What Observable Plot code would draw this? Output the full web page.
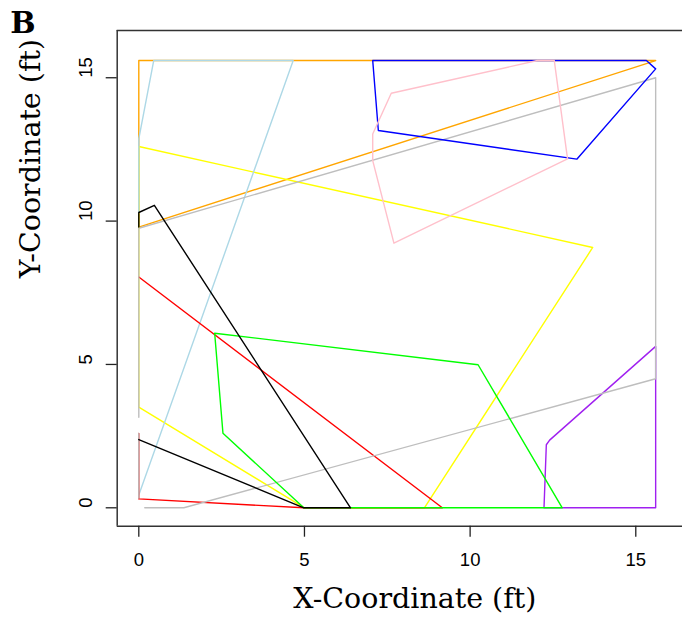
<!DOCTYPE html>
<html><head><meta charset="utf-8">
<script src="https://cdn.jsdelivr.net/npm/d3@7"></script>
<script src="https://cdn.jsdelivr.net/npm/@observablehq/plot@0.6"></script>
<style>html,body{margin:0;padding:0;background:#fff;overflow:hidden}</style>
</head><body><div id="chart"></div>
<script>
// axis ticks and limits (ft)
const xTicks = [0, 5, 10, 15];
const yTicks = [0, 5, 10, 15];
const xLimits = [-0.652, 16.41];
const yLimits = [-0.642, 16.648];

// paths, in drawing order (NaN = break in a path)
const orangeX = [0, 15.6, 0, 0];
const orangeY = [9.79, 15.6, 15.6, 9.79];
const yellowX = [0, 13.7, 8.62, 5.0, 0, 0];
const yellowY = [12.6, 9.08, 0, 0, 3.51, 12.6];
const lightblueX = [0, 4.66, 0.45, 0, 0];
const lightblueY = [0.45, 15.6, 15.6, 12.87, 10.3];
const redX = [0, 9.16, 4.98, 0, 0];
const redY = [8.05, 0, 0, 0.31, 2.59];
const purpleX = [12.23, 12.3, 12.4, 15.6, 15.6, 12.23];
const purpleY = [0, 2.2, 2.36, 5.63, 0, 0];
const grayX = [0, 0, 15.6, 15.6, 1.36, 0.18, NaN, 0, 0, NaN, 0, 0];
const grayY = [3.16, 9.75, 15.0, 4.5, 0, 0, NaN, 0.33, 2.59, NaN, 9.75, 3.16];
const greenX = [2.29, 10.24, 12.78, 4.98, 2.54, 2.29];
const greenY = [6.09, 4.99, 0, 0, 2.6, 6.09];
const blackX = [0, 0, 0.47, 6.39, 4.98, 0];
const blackY = [9.79, 10.3, 10.55, 0, 0, 2.38];
const blueX = [7.06, 15.32, 15.6, 13.22, 7.23, 7.06];
const blueY = [15.6, 15.6, 15.31, 12.16, 13.16, 15.6];
const pinkX = [12.03, 12.54, 12.94, 7.7, 7.06, 7.06, 7.62, 12.03];
const pinkY = [15.6, 15.6, 12.17, 9.23, 12.11, 13.04, 14.46, 15.6];

const pathColors = ["#FFA500", "#FFFF00", "#ADD8E6", "#FF0000", "#A020F0", "#BEBEBE", "#00FF00", "#000000", "#0000FF", "#FFC0CB"];
const pathXs = [orangeX, yellowX, lightblueX, redX, purpleX, grayX, greenX, blackX, blueX, pinkX];
const pathYs = [orangeY, yellowY, lightblueY, redY, purpleY, grayY, greenY, blackY, blueY, pinkY];

const panelLabel = "B";
const xTitle = "X-Coordinate (ft)";
const yTitle = "Y-Coordinate (ft)";

const serif = "'DejaVu Serif', 'Liberation Serif', serif";
const sans = "'Liberation Sans', Arial, sans-serif";

const lineMarks = pathXs.map((xs, i) => {
  const rows = xs.map((x, j) => ({x, y: pathYs[i][j]}));
  return Plot.line(rows, {x: "x", y: "y", stroke: pathColors[i], strokeWidth: 1.4, curve: "linear"});
});

const chart = Plot.plot({
  width: 682,
  height: 621,
  marginLeft: 116.7,
  marginRight: 0,
  marginTop: 30,
  marginBottom: 95.3,
  style: {background: "#fff", color: "#000"},
  x: {domain: xLimits},
  y: {domain: yLimits},
  marks: [
    ...lineMarks,
    Plot.ruleY(yLimits, {stroke: "#333", strokeWidth: 1.5}),
    Plot.ruleX([xLimits[0]], {stroke: "#333", strokeWidth: 1.5}),
    Plot.axisX({ticks: xTicks, tickSize: 11, tickPadding: 16, fontSize: 18.5, fontFamily: sans, label: null, stroke: "#222", strokeWidth: 1.3}),
    Plot.axisY({ticks: yTicks, tickSize: 11, tickFormat: () => "", label: null, stroke: "#222", strokeWidth: 1.3}),
    Plot.text(yTicks, {y: d => d, frameAnchor: "left", dx: -31, rotate: -90, text: d => String(d), fontSize: 18.5, fontFamily: sans, fill: "#000"}),
    Plot.text([xTitle], {frameAnchor: "bottom", dx: 15, dy: 82, text: d => d, fontSize: 28.5, fontFamily: serif, fill: "#000"}),
    Plot.text([yTitle], {frameAnchor: "left", dx: -86, rotate: -90, text: d => d, fontSize: 28.5, fontFamily: serif, fill: "#000"}),
    Plot.text([panelLabel], {frameAnchor: "top-left", dx: -107, dy: -19, text: d => d, fontSize: 30, fontWeight: "bold", fontFamily: serif, fill: "#000"})
  ]
});
document.getElementById("chart").appendChild(chart);
</script>
</body></html>
